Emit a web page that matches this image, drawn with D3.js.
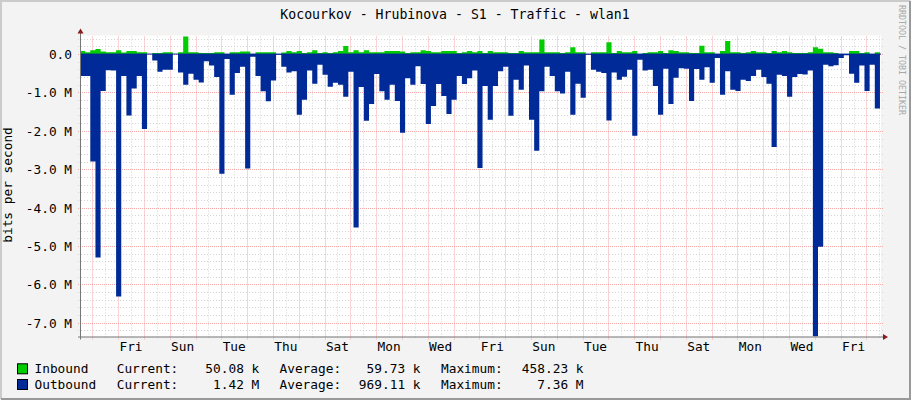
<!DOCTYPE html>
<html lang="en">
  <head>
    <meta charset="utf-8" />
    <title>Kocourkov - Hrubinova - S1 - Traffic - wlan1</title>
    <script src="https://cdn.jsdelivr.net/npm/d3@7"></script>
    <style>
      body {
        margin: 0;
        background: #f3f3f3;
      }
      svg {
        display: block;
        font-family: "DejaVu Sans Mono", monospace;
      }
    </style>
  </head>
  <body>
    <script>
      // samples every 4.8 hours, Mbit/s
      var inbound = [
        0.08, 0.05, 0.1, 0.13, 0.07, 0.05, 0.05, 0.1, 0.04, 0.08,
        0.08, 0.05, 0.05, 0, 0.03, 0.03, 0.05, 0.05, 0, 0.05,
        0.458, 0.05, 0.05, 0.03, 0.03, 0.03, 0.05, 0.05, 0, 0.05,
        0.05, 0.07, 0.07, 0, 0.05, 0.05, 0.05, 0.05, 0, 0.04,
        0.08, 0.05, 0.08, 0.03, 0.05, 0.1, 0.03, 0.05, 0.03, 0.05,
        0.08, 0.21, 0.05, 0.1, 0.05, 0.1, 0.05, 0.05, 0.05, 0.08,
        0.08, 0.08, 0.07, 0.03, 0.05, 0.05, 0.1, 0.08, 0.05, 0.05,
        0.08, 0.08, 0.08, 0.03, 0.05, 0.08, 0.05, 0.08, 0.03, 0.08,
        0.05, 0.05, 0.05, 0.03, 0.03, 0.08, 0.05, 0.05, 0.05, 0.38,
        0.05, 0.05, 0.05, 0.03, 0.05, 0.18, 0.05, 0.05, 0, 0.05,
        0.05, 0.05, 0.31, 0.03, 0.08, 0.05, 0.05, 0.08, 0, 0.03,
        0.05, 0.05, 0.08, 0.03, 0.1, 0.08, 0.05, 0.05, 0.03, 0.03,
        0.22, 0.05, 0.05, 0, 0.08, 0.34, 0.05, 0.05, 0.03, 0.05,
        0.08, 0.05, 0.05, 0.03, 0.08, 0.05, 0.08, 0.05, 0.03, 0.03,
        0.03, 0.05, 0.18, 0.14, 0.05, 0.05, 0.03, 0, 0, 0.08,
        0.08, 0.03, 0.05, 0, 0.05
      ];
      var outbound = [
        0.57, 0.57, 2.8, 5.3, 0.96, 0.42, 0.43, 6.32, 0.57, 1.6,
        0.9, 0.57, 1.95, 0, 0.17, 0.46, 0.41, 0.41, 0, 0.48,
        0.8, 0.51, 0.67, 0.74, 0.19, 0.3, 0.6, 3.12, 0.13, 1.06,
        0.49, 0.33, 2.98, 0.07, 0.57, 0.97, 1.23, 0.69, 0.02, 0.33,
        0.48, 0.45, 1.58, 1.19, 0.43, 0.77, 0.28, 0.54, 0.85, 0.75,
        0.8, 1.11, 0.46, 4.52, 0.86, 1.74, 1.3, 0.52, 0.97, 1.19,
        0.8, 1.22, 2.05, 0.63, 0.8, 0.32, 0.78, 1.82, 1.35, 0.78,
        1.09, 1.56, 1.19, 0.57, 0.78, 0.63, 0.43, 2.97, 0.83, 1.71,
        0.83, 0.45, 0.33, 1.61, 0.67, 0.93, 0.3, 1.71, 2.52, 0.97,
        0.33, 0.57, 0.97, 1.03, 0.46, 1.58, 0.77, 1.14, 0.01, 0.41,
        0.46, 0.49, 1.73, 0.48, 0.67, 0.59, 0.41, 2.13, 0.15, 0.43,
        0.41, 0.83, 1.58, 0.38, 1.3, 0.62, 0.37, 0.38, 1.22, 0.39,
        0.67, 0.34, 0.75, 0.1, 1.06, 0.45, 0.93, 0.96, 0.67, 0.7,
        0.57, 0.41, 0.6, 0.77, 2.42, 0.54, 0.57, 1.11, 0.6, 0.52,
        0.53, 0.43, 7.36, 5.02, 0.28, 0.32, 0.29, 0.1, 0.03, 0.51,
        0.75, 0.3, 0.96, 0.28, 1.42
      ];

      var yTicks = [0, -1, -2, -3, -4, -5, -6, -7];
      var legendNames = ["Inbound", "Outbound"];
      var legendColors = ["#00cc00", "#002a97"];
      var legendCurrent = ["50.08 k", "1.42 M"];
      var legendAverage = ["59.73 k", "969.11 k"];
      var legendMaximum = ["458.23 k", "7.36 M"];

      var w = 911;
      var h = 400;
      var plotL = 81,
        plotR = 881,
        plotT = 36.5,
        plotB = 336.5;

      // graph covers 31 days, starting Wednesday 13:30
      var start = new Date(2014, 0, 1, 13, 30);
      var end = d3.timeDay.offset(start, 31);
      var firstSample = new Date(2014, 0, 1, 12, 32);
      var stepMin = 288;

      var xScale = d3.scaleTime().domain([start, end]).range([plotL, plotR]);
      var yScale = d3
        .scaleLinear()
        .domain([-7.36, 0.45823])
        .range([plotB, plotT]);

      function sampleTime(i) {
        return d3.timeMinute.offset(firstSample, stepMin * i);
      }

      // repeat the last value so the last step gets its width
      function toSteps(arr) {
        var pts = arr.map(function (v, i) {
          return { t: sampleTime(i), v: v };
        });
        pts.push({ t: sampleTime(arr.length), v: arr[arr.length - 1] });
        return pts;
      }

      var svg = d3
        .select("body")
        .append("svg")
        .attr("width", w)
        .attr("height", h);

      // frame
      svg.append("rect").attr("width", w).attr("height", h).attr("fill", "#f3f3f3");
      svg.append("path")
        .attr("d", "M1,399V1H910")
        .attr("fill", "none")
        .attr("stroke", "#cbcbcb")
        .attr("stroke-width", 2);
      svg.append("path")
        .attr("d", "M1,399H910V1")
        .attr("fill", "none")
        .attr("stroke", "#999999")
        .attr("stroke-width", 2);

      svg.append("rect")
        .attr("x", plotL)
        .attr("y", plotT - 1)
        .attr("width", plotR - plotL)
        .attr("height", plotB - plotT + 1)
        .attr("fill", "#ffffff");

      svg.append("clipPath")
        .attr("id", "plot")
        .append("rect")
        .attr("x", plotL)
        .attr("y", plotT - 1)
        .attr("width", plotR - plotL)
        .attr("height", plotB - plotT + 1);

      // horizontal grid
      var minorY = d3.range(-36, 3).map(function (i) {
        return +(i * 0.2).toFixed(1);
      }).filter(function (v) {
        return yTicks.indexOf(v) < 0;
      });

      function yPix(v) {
        return Math.round(yScale(v)) + 0.5;
      }

      var minorColor = "#d4d4d4";
      var majorColor = "#f5a8a8";

      svg.append("g")
        .selectAll("line")
        .data(minorY)
        .enter()
        .append("line")
        .attr("x1", plotL - 3)
        .attr("x2", plotR + 2)
        .attr("y1", yPix)
        .attr("y2", yPix)
        .attr("stroke", minorColor)
        .attr("stroke-dasharray", "1,2");

      // vertical grid: midnight major, noon minor
      var days = d3.timeDay.range(start, end);
      var noons = days
        .map(function (d) {
          return d3.timeHour.offset(d, 12);
        })
        .filter(function (d) {
          return d < end;
        });

      function xPix(d) {
        return Math.round(xScale(d)) + 0.5;
      }

      svg.append("g")
        .selectAll("line")
        .data(noons)
        .enter()
        .append("line")
        .attr("x1", xPix)
        .attr("x2", xPix)
        .attr("y1", plotT)
        .attr("y2", plotB + 3)
        .attr("stroke", minorColor)
        .attr("stroke-dasharray", "1,2");

      svg.append("g")
        .selectAll("line")
        .data(yTicks)
        .enter()
        .append("line")
        .attr("x1", plotL - 3)
        .attr("x2", plotR + 2)
        .attr("y1", yPix)
        .attr("y2", yPix)
        .attr("stroke", majorColor)
        .attr("stroke-dasharray", "1,1");

      svg.append("g")
        .selectAll("line")
        .data(days)
        .enter()
        .append("line")
        .attr("x1", xPix)
        .attr("x2", xPix)
        .attr("y1", plotT)
        .attr("y2", plotB + 3)
        .attr("stroke", majorColor)
        .attr("stroke-dasharray", "1,1");

      // data
      var outArea = d3
        .area()
        .curve(d3.curveStepAfter)
        .x(function (d) {
          return xScale(d.t);
        })
        .y0(yScale(0))
        .y1(function (d) {
          return yScale(-d.v);
        });

      var inArea = d3
        .area()
        .curve(d3.curveStepAfter)
        .x(function (d) {
          return xScale(d.t);
        })
        .y0(yScale(0))
        .y1(function (d) {
          return yScale(d.v);
        });

      var plot = svg.append("g").attr("clip-path", "url(#plot)");

      plot.append("path")
        .datum(toSteps(outbound))
        .attr("d", outArea)
        .attr("fill", "#002a97");

      plot.append("path")
        .datum(toSteps(inbound))
        .attr("d", inArea)
        .attr("fill", "#00cc00");

      plot.append("line")
        .attr("x1", plotL)
        .attr("x2", plotR)
        .attr("y1", yScale(0))
        .attr("y2", yScale(0))
        .attr("stroke", "#002a97")
        .attr("stroke-width", 1);

      // axes
      svg.append("line")
        .attr("x1", plotL - 3)
        .attr("x2", plotR + 3)
        .attr("y1", plotB + 0.5)
        .attr("y2", plotB + 0.5)
        .attr("stroke", "#777777");
      svg.append("line")
        .attr("x1", plotL - 0.5)
        .attr("x2", plotL - 0.5)
        .attr("y1", plotB + 3)
        .attr("y2", plotT - 4)
        .attr("stroke", "#777777");
      svg.append("path")
        .attr("d", "M" + (plotR + 2) + "," + (plotB - 2.5) + "l5,3l-5,3z")
        .attr("fill", "#8b1a1a");
      svg.append("path")
        .attr("d", "M" + (plotL - 3.5) + "," + (plotT - 3) + "l3,-5l3,5z")
        .attr("fill", "#8b1a1a");

      // y labels
      svg.append("g")
        .selectAll("text")
        .data(yTicks)
        .enter()
        .append("text")
        .attr("x", 72)
        .attr("y", function (d) {
          return yPix(d) + 4.8;
        })
        .attr("text-anchor", "end")
        .attr("font-size", "12.8px")
        .attr("fill", "#000")
        .text(function (d) {
          return d === 0 ? "0.0" : d.toFixed(1) + " M";
        });

      // x labels every other day, centred on noon
      var fmtDay = d3.timeFormat("%a");
      svg.append("g")
        .selectAll("text")
        .data(noons.filter(function (d, i) {
          return i % 2 === 1;
        }))
        .enter()
        .append("text")
        .attr("x", xScale)
        .attr("y", 351)
        .attr("text-anchor", "middle")
        .attr("font-size", "12.8px")
        .text(fmtDay);

      // title
      svg.append("text")
        .attr("x", 455)
        .attr("y", 19)
        .attr("text-anchor", "middle")
        .attr("font-size", "13.2px")
        .text("Kocourkov - Hrubinova - S1 - Traffic - wlan1");

      svg.append("text")
        .attr("transform", "translate(12,185) rotate(-90)")
        .attr("text-anchor", "middle")
        .attr("font-size", "12.8px")
        .text("bits per second");

      svg.append("text")
        .attr("transform", "translate(899,5) rotate(90)")
        .attr("font-size", "8.3px")
        .attr("fill", "#a8a8a8")
        .text("RRDTOOL / TOBI OETIKER");

      // legend
      var rows = svg
        .append("g")
        .selectAll("g")
        .data(legendNames)
        .enter()
        .append("g")
        .attr("transform", function (d, i) {
          return "translate(0," + (373.3 + i * 15.7) + ")";
        })
        .attr("font-size", "12.8px");

      rows.append("rect")
        .attr("x", 17.5)
        .attr("y", -9.5)
        .attr("width", 10)
        .attr("height", 10)
        .attr("fill", function (d, i) {
          return legendColors[i];
        })
        .attr("stroke", "#000");

      rows.append("text").attr("x", 34.5).text(function (d) {
        return d;
      });
      rows.append("text").attr("x", 116.7).text("Current:");
      rows.append("text").attr("x", 279.5).text("Average:");
      rows.append("text").attr("x", 441).text("Maximum:");
      rows.append("text")
        .attr("x", 259.3)
        .attr("text-anchor", "end")
        .text(function (d, i) {
          return legendCurrent[i];
        });
      rows.append("text")
        .attr("x", 420.5)
        .attr("text-anchor", "end")
        .text(function (d, i) {
          return legendAverage[i];
        });
      rows.append("text")
        .attr("x", 583.5)
        .attr("text-anchor", "end")
        .text(function (d, i) {
          return legendMaximum[i];
        });
    </script>
  </body>
</html>
